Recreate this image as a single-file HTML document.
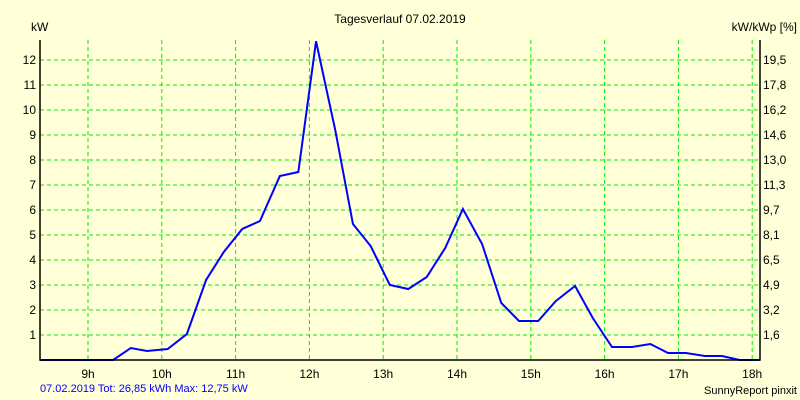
<!DOCTYPE html>
<html><head><meta charset="utf-8"><style>
body{margin:0;background:#ffffd8;}
svg{display:block;font-family:"Liberation Sans",sans-serif;font-size:12px;}
</style></head><body>
<svg width="800" height="400">
<rect width="800" height="400" fill="#ffffd8"/>
<text x="400" y="23" text-anchor="middle">Tagesverlauf 07.02.2019</text>
<text x="31" y="31">kW</text>
<text x="797" y="31" text-anchor="end">kW/kWp [%]</text>
<g id="grid"></g>
<g id="ticks"></g>
<polyline id="line" fill="none" stroke="#0000ff" stroke-width="2"/>
<path d="M40,40 V360 H760 V40" fill="none" stroke="#000" stroke-width="1.5"/>
<text x="40" y="392" fill="#0000ff" font-size="11">07.02.2019 Tot: 26,85 kWh Max: 12,75 kW</text>
<text x="797" y="394" text-anchor="end" font-size="11">SunnyReport pinxit</text>
</svg>
<script>
const hours=[9,10,11,12,13,14,15,16,17,18];
const yTicks=[1,2,3,4,5,6,7,8,9,10,11,12];
const rightLabels=["1,6","3,2","4,9","6,5","8,1","9,7","11,3","13,0","14,6","16,2","17,8","19,5"];
const times=[8.35,9.34,9.58,9.80,10.08,10.34,10.60,10.84,11.09,11.33,11.60,11.85,12.09,12.35,12.59,12.83,13.09,13.34,13.59,13.84,14.08,14.34,14.60,14.84,15.10,15.34,15.60,15.84,16.10,16.37,16.62,16.86,17.10,17.36,17.59,17.83,18.1];
const values=[0,0,0.48,0.36,0.44,1.04,3.2,4.32,5.24,5.56,7.36,7.52,12.75,9.2,5.44,4.56,3.0,2.84,3.32,4.48,6.04,4.64,2.28,1.56,1.56,2.36,2.96,1.68,0.52,0.52,0.64,0.28,0.28,0.16,0.16,0,0];
const X=t=>88+(t-9)*73.8;
const Y=v=>360-v*25;
const NS="http://www.w3.org/2000/svg";
const grid=document.getElementById('grid'),ticks=document.getElementById('ticks');
hours.forEach(h=>{
  const l=document.createElementNS(NS,'line');
  
  
  l.setAttribute('x1',X(h));l.setAttribute('x2',X(h));l.setAttribute('y1',40);l.setAttribute('y2',360);
  l.setAttribute('stroke','#00ee00');l.setAttribute('stroke-dasharray','4,3');
  grid.appendChild(l);
  const t=document.createElementNS(NS,'text');
  
  
  t.setAttribute('x',X(h));t.setAttribute('y',378);t.setAttribute('text-anchor','middle');
  t.textContent=h+'h';ticks.appendChild(t);
});
yTicks.forEach((v,i)=>{
  const l=document.createElementNS(NS,'line');
  
  
  l.setAttribute('x1',40);l.setAttribute('x2',760);l.setAttribute('y1',Y(v));l.setAttribute('y2',Y(v));
  l.setAttribute('stroke','#00ee00');l.setAttribute('stroke-dasharray','4,3');
  grid.appendChild(l);
  const t=document.createElementNS(NS,'text');
  
  
  t.setAttribute('x',36);t.setAttribute('y',Y(v)+4);t.setAttribute('text-anchor','end');
  t.textContent=v;ticks.appendChild(t);
  const r=document.createElementNS(NS,'text');
  
  
  r.setAttribute('x',763);r.setAttribute('y',Y(v)+4);
  r.textContent=rightLabels[i];ticks.appendChild(r);
});
document.getElementById('line').setAttribute('points',times.map((t,i)=>X(t)+','+Y(values[i])).join(' '));
</script>
</body></html>
